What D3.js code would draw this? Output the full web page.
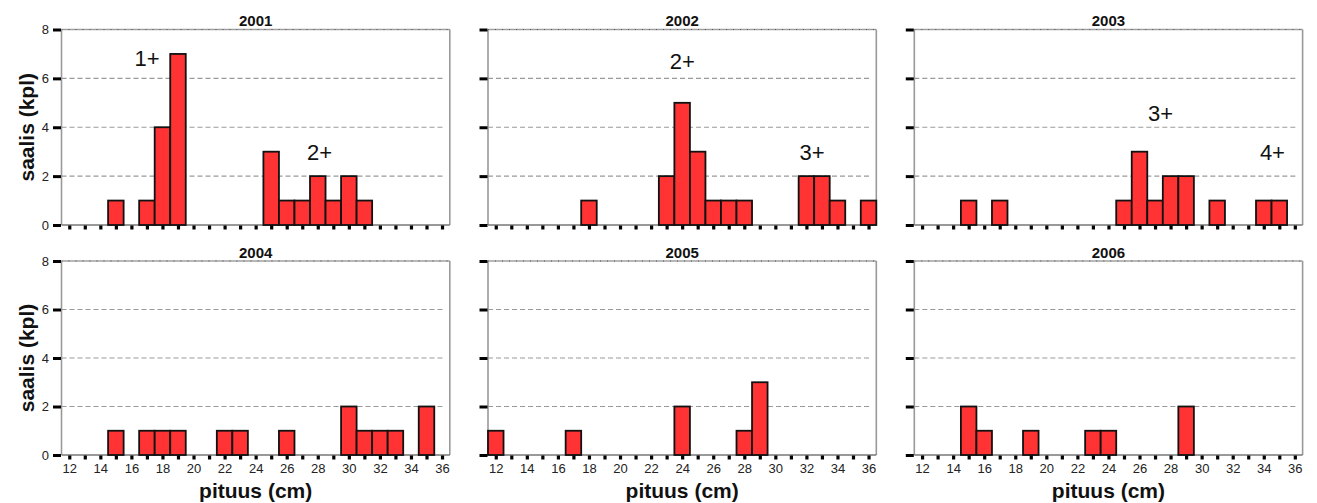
<!DOCTYPE html>
<html>
<head>
<meta charset="utf-8">
<script src="https://cdn.jsdelivr.net/npm/d3@7"></script>
<style>
  html, body { margin: 0; padding: 0; background: #fff; }
  svg { display: block; }
  text { font-family: "Liberation Sans", Arial, sans-serif; }
</style>
</head>
<body>
<svg id="chart" width="1317" height="503"></svg>
<script>
// Catch per length class (cm) in each year
const years = ["2001", "2002", "2003", "2004", "2005", "2006"];
const lengthsCm = d3.range(12, 37);
const xTickLabels = d3.range(12, 37, 2);
const yTickValues = [0, 2, 4, 6, 8];
const gridValues = [2, 4, 6];

const catch2001 = [[15, 1], [17, 1], [18, 4], [19, 7], [25, 3], [26, 1], [27, 1], [28, 2], [29, 1], [30, 2], [31, 1]];
const catch2002 = [[18, 1], [23, 2], [24, 5], [25, 3], [26, 1], [27, 1], [28, 1], [32, 2], [33, 2], [34, 1], [36, 1]];
const catch2003 = [[15, 1], [17, 1], [25, 1], [26, 3], [27, 1], [28, 2], [29, 2], [31, 1], [34, 1], [35, 1]];
const catch2004 = [[15, 1], [17, 1], [18, 1], [19, 1], [22, 1], [23, 1], [26, 1], [30, 2], [31, 1], [32, 1], [33, 1], [35, 2]];
const catch2005 = [[12, 1], [17, 1], [24, 2], [28, 1], [29, 3]];
const catch2006 = [[15, 2], [16, 1], [19, 1], [23, 1], [24, 1], [29, 2]];
const catchByYear = [catch2001, catch2002, catch2003, catch2004, catch2005, catch2006];

// Age-group labels: [year, text, length (cm), catch]
const ageLabels = [
  ["2001", "1+", 16.2, 6.5],
  ["2001", "2+", 27.3, 2.66],
  ["2002", "2+", 23.2, 6.39],
  ["2002", "3+", 31.55, 2.66],
  ["2003", "3+", 26.55, 4.27],
  ["2003", "4+", 33.75, 2.64]
];

const yLabel = "saalis (kpl)";
const xLabel = "pituus (cm)";

// Panel grid layout
const colLeft = [61.5, 488, 914.3];
const panelWidth = 388.3;
const rowBottom = [225, 455];
const rowTop = [29.5, 261];

const svg = d3.select("#chart");

years.forEach((year, i) => {
  const col = i % 3, row = Math.floor(i / 3);
  const x = d3.scaleLinear().domain([11.5, 36.5]).range([colLeft[col], colLeft[col] + panelWidth]);
  const y = d3.scaleLinear().domain([0, 8]).range([rowBottom[row], rowTop[row]]);
  const bw = x(1) - x(0);
  const g = svg.append("g");
  const x0 = x.range()[0], x1 = x.range()[1];

  // dashed gridlines
  g.selectAll("line.grid").data(gridValues).join("line")
    .attr("x1", x0).attr("x2", x1 - 6)
    .attr("y1", d => y(d)).attr("y2", d => y(d))
    .attr("stroke", "#9a9a9a").attr("stroke-width", 1.1)
    .attr("stroke-dasharray", "5,3");

  // frame
  g.append("line").attr("x1", x0).attr("x2", x1).attr("y1", y(8)).attr("y2", y(8))
    .attr("stroke", "#a0a0a0").attr("stroke-width", 1.4);
  g.append("line").attr("x1", x0).attr("x2", x1).attr("y1", y(8)).attr("y2", y(8))
    .attr("stroke", "#555").attr("stroke-width", 1).attr("stroke-dasharray", "1,6");
  g.append("line").attr("x1", x0).attr("x2", x0).attr("y1", y(8)).attr("y2", y(0))
    .attr("stroke", "#999").attr("stroke-width", 1.6);
  g.append("line").attr("x1", x1).attr("x2", x1).attr("y1", y(8)).attr("y2", y(0))
    .attr("stroke", "#999").attr("stroke-width", 1.6);
  g.append("line").attr("x1", x0).attr("x2", x1).attr("y1", y(0)).attr("y2", y(0))
    .attr("stroke", "#777").attr("stroke-width", 1.4);

  // bars
  g.selectAll("rect.bar").data(catchByYear[i]).join("rect")
    .attr("x", d => x(d[0] - 0.5))
    .attr("width", bw)
    .attr("y", d => y(d[1]))
    .attr("height", d => y(0) - y(d[1]))
    .attr("fill", "#ff3333")
    .attr("stroke", "#111")
    .attr("stroke-width", 1.8);

  // y axis: thick tick marks, labels only in the first column
  const yAxis = d3.axisLeft(y).tickValues(yTickValues).tickSize(8).tickPadding(4)
    .tickFormat(col === 0 ? d3.format("d") : () => "");
  const ya = g.append("g").attr("transform", `translate(${x0 - 0.5},0)`).call(yAxis);
  ya.select(".domain").remove();
  ya.selectAll(".tick line").attr("stroke", "#000").attr("stroke-width", 3);
  ya.selectAll(".tick text").attr("font-size", 13).attr("fill", "#222")
    .attr("font-family", "'Liberation Sans', Arial, sans-serif");

  // x axis: square tick marks at every length class, labels on the bottom row
  const xAxis = d3.axisBottom(x).tickValues(lengthsCm).tickSize(4).tickPadding(4)
    .tickFormat(d => (row === 1 && xTickLabels.includes(d)) ? d : "");
  const xa = g.append("g").attr("transform", `translate(0,${y(0) + 0.5})`).call(xAxis);
  xa.select(".domain").remove();
  xa.selectAll(".tick line").attr("stroke", "#000").attr("stroke-width", 3.2);
  xa.selectAll(".tick text").attr("font-size", 13).attr("fill", "#222")
    .attr("font-family", "'Liberation Sans', Arial, sans-serif");

  // panel title
  g.append("text").attr("x", (x0 + x1) / 2).attr("y", rowTop[row] - 3.5)
    .attr("text-anchor", "middle").attr("font-weight", "bold").attr("font-size", 15)
    .attr("fill", "#111").text(year);

  // age-group labels
  g.selectAll("text.age").data(ageLabels.filter(a => a[0] === year)).join("text")
    .attr("x", d => x(d[2])).attr("y", d => y(d[3]))
    .attr("font-size", 22).attr("fill", "#111").text(d => d[1]);

  // axis titles
  if (col === 0) {
    g.append("text")
      .attr("transform", `translate(34,${(y(0) + y(8)) / 2}) rotate(-90)`)
      .attr("text-anchor", "middle").attr("font-weight", "bold").attr("font-size", 21)
      .attr("fill", "#111").text(yLabel);
  }
  if (row === 1) {
    g.append("text").attr("x", (x0 + x1) / 2).attr("y", 498)
      .attr("text-anchor", "middle").attr("font-weight", "bold").attr("font-size", 21)
      .attr("fill", "#111").text(xLabel);
  }
});
</script>
</body>
</html>
